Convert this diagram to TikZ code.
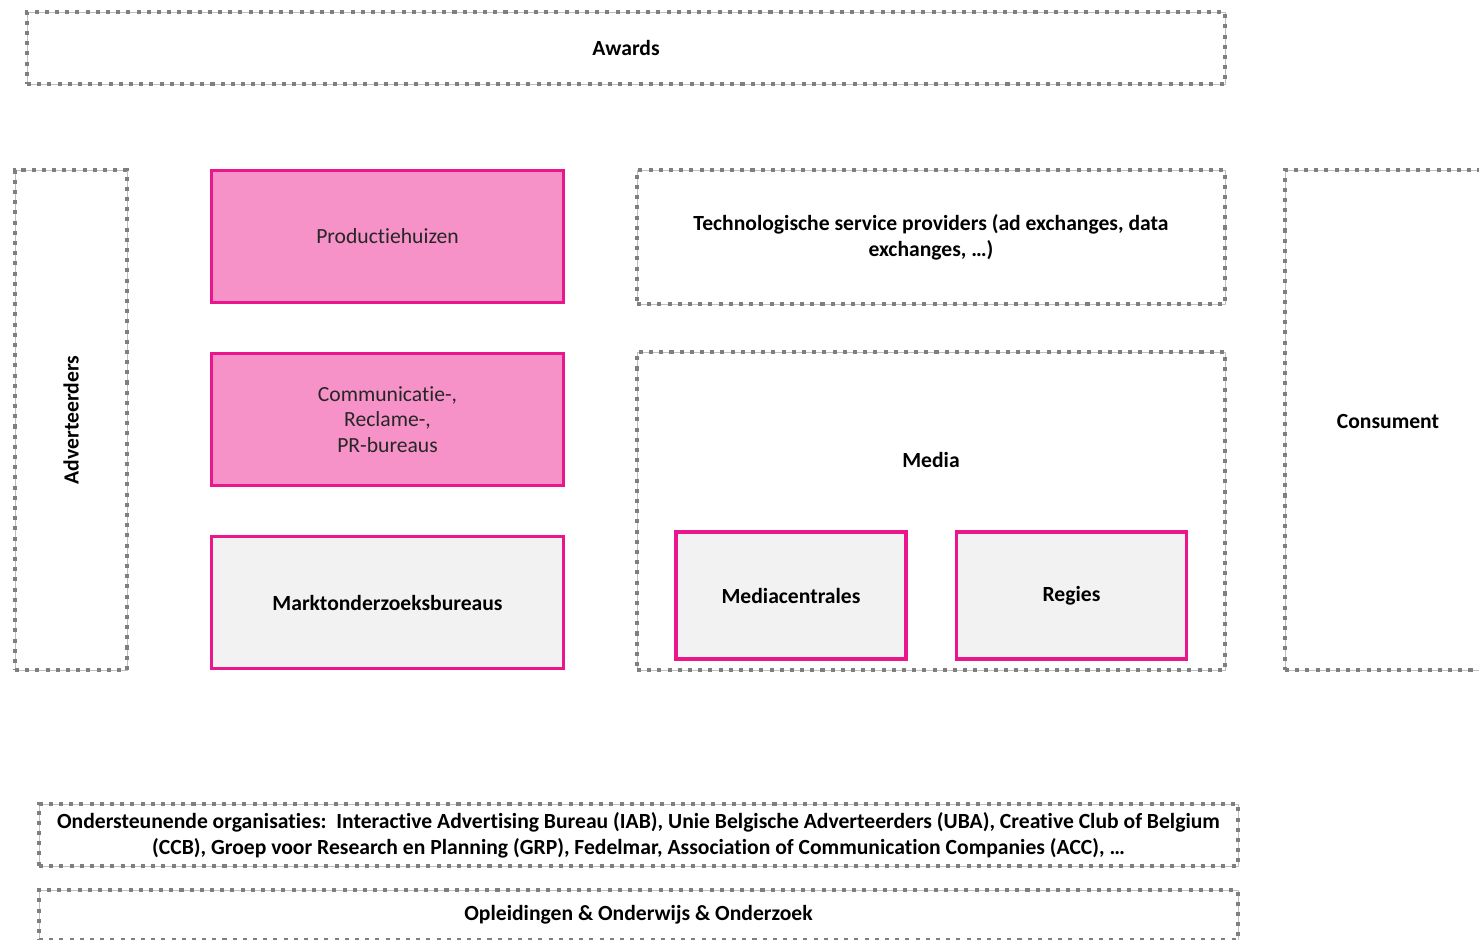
\documentclass[tikz,border=0pt]{standalone}
\usepackage{xcolor}
\usepackage{fontspec}
\usepackage{tikz}
\setmainfont{Carlito}[Ligatures=NoCommon]

\definecolor{rosefill}{HTML}{F692C8}
\definecolor{roseline}{HTML}{EA168C}
\definecolor{lightfill}{HTML}{F2F2F2}
\definecolor{dotgray}{HTML}{7F7F7F}
\definecolor{thingray}{HTML}{BFBFBF}

\newcommand{\boldtext}{\fontsize{12.3}{14.7}\selectfont\bfseries}
\newcommand{\plaintext}{\fontsize{12.3}{14.7}\selectfont}

\tikzset{
  dotbox/.style={draw=thingray, line width=0.4pt, rectangle, align=center,
    font=\boldtext,
    postaction={draw=dotgray, line width=2.3pt, dash pattern=on 2.3pt off 3.5pt}},
  rosebox/.style={draw=roseline, fill=rosefill, line width=1.8pt, align=center,
    font=\plaintext, text=black!85, minimum width=7.04cm, minimum height=2.64cm},
  greybox/.style={draw=roseline, fill=lightfill, line width=1.8pt, align=center,
    font=\boldtext}
}

\begin{document}
\begin{tikzpicture}
\useasboundingbox (0,0) rectangle (29.58,-18.78);
\clip (0,0) rectangle (29.58,-18.78);

\node[dotbox, minimum width=23.96cm, minimum height=1.44cm] (awards) at (12.52,-0.96) {Awards};

\node[dotbox, minimum width=2.24cm, minimum height=10cm] (adv) at (1.42,-8.4) {};
\node[font=\boldtext, rotate=90] (advtext) at (adv.center) {Adverteerders};

\node[rosebox] (prod) at (7.75,-4.73) {Productiehuizen};
\node[rosebox] (comm) at (7.75,-8.39) {Communicatie-,\\Reclame-,\\PR-bureaus};
\node[greybox, minimum width=7.04cm, minimum height=2.64cm] (markt) at (7.75,-12.05) {Marktonderzoeksbureaus};

\node[dotbox, minimum width=11.76cm, minimum height=2.68cm] (tech) at (18.62,-4.74)
  {Technologische service providers (ad exchanges, data\\exchanges, \dots)};

\node[dotbox, minimum width=11.76cm, minimum height=6.36cm] (media) at (18.62,-10.22) {};
\node[font=\boldtext] (mediatext) at (18.62,-9.2) {Media};
\node[greybox, minimum width=4.6cm, minimum height=2.54cm] (central) at (15.82,-11.91) {Mediacentrales};
\node[greybox, minimum width=4.6cm, minimum height=2.54cm] (regies) at (21.43,-11.91) {Regies};

\node[dotbox, minimum width=4.2cm, minimum height=10cm] (cons) at (27.8,-8.4) {};
\node[font=\boldtext] (constext) at (27.76,-8.42) {Consument};

\node[dotbox, minimum width=23.98cm, minimum height=1.24cm] (orgs) at (12.77,-16.7)
  {Ondersteunende organisaties:\ \ Interactive Advertising Bureau (IAB), Unie Belgische Adverteerders (UBA), Creative Club of Belgium\\
   (CCB), Groep voor Research en Planning (GRP), Fedelmar, Association of Communication Companies (ACC), \dots};

\node[dotbox, minimum width=23.98cm, minimum height=1.0cm] (opl) at (12.77,-18.3)
  {Opleidingen \& Onderwijs \& Onderzoek};
\end{tikzpicture}
\end{document}
